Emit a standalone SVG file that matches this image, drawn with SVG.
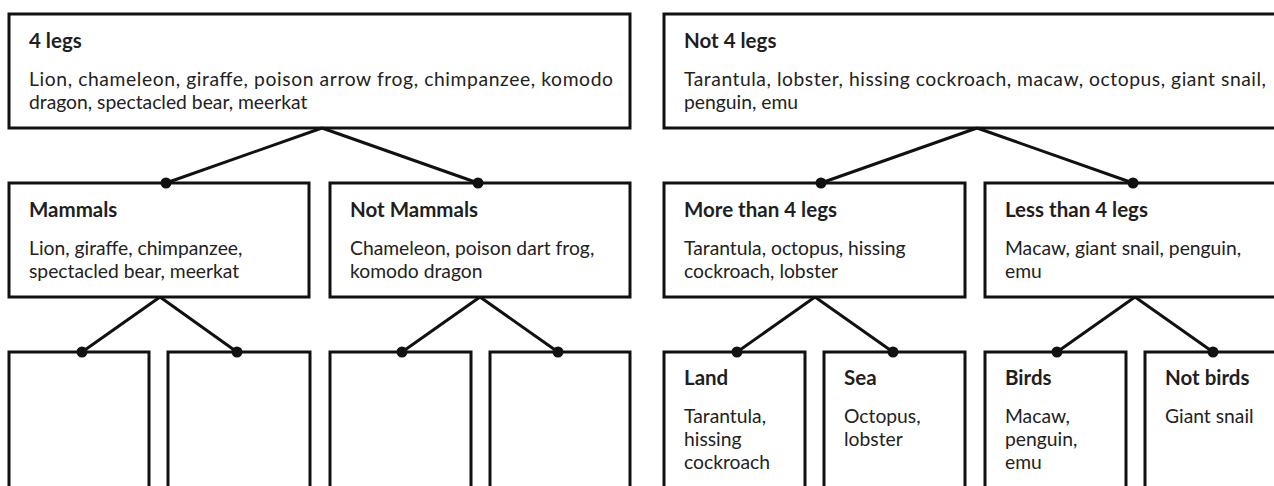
<svg xmlns="http://www.w3.org/2000/svg" width="1274" height="486" viewBox="0 0 1274 486">
<style>
.box{fill:#fff;stroke:#111;stroke-width:3}
.t{font-family:Lato,"Open Sans","Liberation Sans",sans-serif;font-size:20.5px;font-weight:700;fill:#1f1f1f}
.b{font-family:Lato,"Open Sans","Liberation Sans",sans-serif;font-size:19.3px;fill:#222}
.c line{stroke:#111;stroke-width:3}
.c circle{fill:#111}
</style>
<rect width="1274" height="486" fill="#fff"/>
<g id="n-4legs">
<rect class="box" x="9" y="14" width="621" height="114"/>
<text class="t" x="29" y="48">4 legs</text>
<text class="b" x="29" y="86" textLength="584" lengthAdjust="spacing">Lion, chameleon, giraffe, poison arrow frog, chimpanzee, komodo</text>
<text class="b" x="29" y="109">dragon, spectacled bear, meerkat</text>
</g>
<g id="n-not4legs">
<rect class="box" x="664" y="14" width="620" height="114"/>
<text class="t" x="684" y="48">Not 4 legs</text>
<text class="b" x="684" y="86" textLength="582" lengthAdjust="spacing">Tarantula, lobster, hissing cockroach, macaw, octopus, giant snail,</text>
<text class="b" x="684" y="109">penguin, emu</text>
</g>
<g id="n-mammals">
<rect class="box" x="9" y="183" width="300" height="114"/>
<text class="t" x="29" y="217">Mammals</text>
<text class="b" x="29" y="255">Lion, giraffe, chimpanzee,</text>
<text class="b" x="29" y="278">spectacled bear, meerkat</text>
</g>
<g id="n-notmammals">
<rect class="box" x="330" y="183" width="300" height="114"/>
<text class="t" x="350" y="217">Not Mammals</text>
<text class="b" x="350" y="255">Chameleon, poison dart frog,</text>
<text class="b" x="350" y="278">komodo dragon</text>
</g>
<g id="n-more4">
<rect class="box" x="664" y="183" width="301" height="114"/>
<text class="t" x="684" y="217">More than 4 legs</text>
<text class="b" x="684" y="255">Tarantula, octopus, hissing</text>
<text class="b" x="684" y="278">cockroach, lobster</text>
</g>
<g id="n-less4">
<rect class="box" x="985" y="183" width="300" height="114"/>
<text class="t" x="1005" y="217">Less than 4 legs</text>
<text class="b" x="1005" y="255">Macaw, giant snail, penguin,</text>
<text class="b" x="1005" y="278">emu</text>
</g>
<g id="n-empty1"><rect class="box" x="9" y="352" width="140" height="150"/></g>
<g id="n-empty2"><rect class="box" x="168" y="352" width="142" height="150"/></g>
<g id="n-empty3"><rect class="box" x="330" y="352" width="141" height="150"/></g>
<g id="n-empty4"><rect class="box" x="490" y="352" width="140" height="150"/></g>
<g id="n-land">
<rect class="box" x="664" y="352" width="141" height="150"/>
<text class="t" x="684" y="385">Land</text>
<text class="b" x="684" y="423">Tarantula,</text>
<text class="b" x="684" y="446">hissing</text>
<text class="b" x="684" y="469">cockroach</text>
</g>
<g id="n-sea">
<rect class="box" x="824" y="352" width="141" height="150"/>
<text class="t" x="844" y="385">Sea</text>
<text class="b" x="844" y="423">Octopus,</text>
<text class="b" x="844" y="446">lobster</text>
</g>
<g id="n-birds">
<rect class="box" x="985" y="352" width="141" height="150"/>
<text class="t" x="1005" y="385">Birds</text>
<text class="b" x="1005" y="423">Macaw,</text>
<text class="b" x="1005" y="446">penguin,</text>
<text class="b" x="1005" y="469">emu</text>
</g>
<g id="n-notbirds">
<rect class="box" x="1145" y="352" width="140" height="150"/>
<text class="t" x="1165" y="385">Not birds</text>
<text class="b" x="1165" y="423">Giant snail</text>
</g>
<g id="connectors" class="c">
<line x1="322" y1="128" x2="166" y2="183"/><line x1="322" y1="128" x2="478" y2="183"/>
<line x1="977" y1="128" x2="821" y2="183"/><line x1="977" y1="128" x2="1133" y2="183"/>
<line x1="160" y1="297" x2="82" y2="352"/><line x1="160" y1="297" x2="237" y2="352"/>
<line x1="480" y1="297" x2="402" y2="352"/><line x1="480" y1="297" x2="558" y2="352"/>
<line x1="815" y1="297" x2="737" y2="352"/><line x1="815" y1="297" x2="893" y2="352"/>
<line x1="1135" y1="297" x2="1057" y2="352"/><line x1="1135" y1="297" x2="1213" y2="352"/>
<circle cx="166" cy="183" r="5.5"/><circle cx="478" cy="183" r="5.5"/>
<circle cx="821" cy="183" r="5.5"/><circle cx="1133" cy="183" r="5.5"/>
<circle cx="82" cy="352" r="5.5"/><circle cx="237" cy="352" r="5.5"/>
<circle cx="402" cy="352" r="5.5"/><circle cx="558" cy="352" r="5.5"/>
<circle cx="737" cy="352" r="5.5"/><circle cx="893" cy="352" r="5.5"/>
<circle cx="1057" cy="352" r="5.5"/><circle cx="1213" cy="352" r="5.5"/>
</g>
</svg>
